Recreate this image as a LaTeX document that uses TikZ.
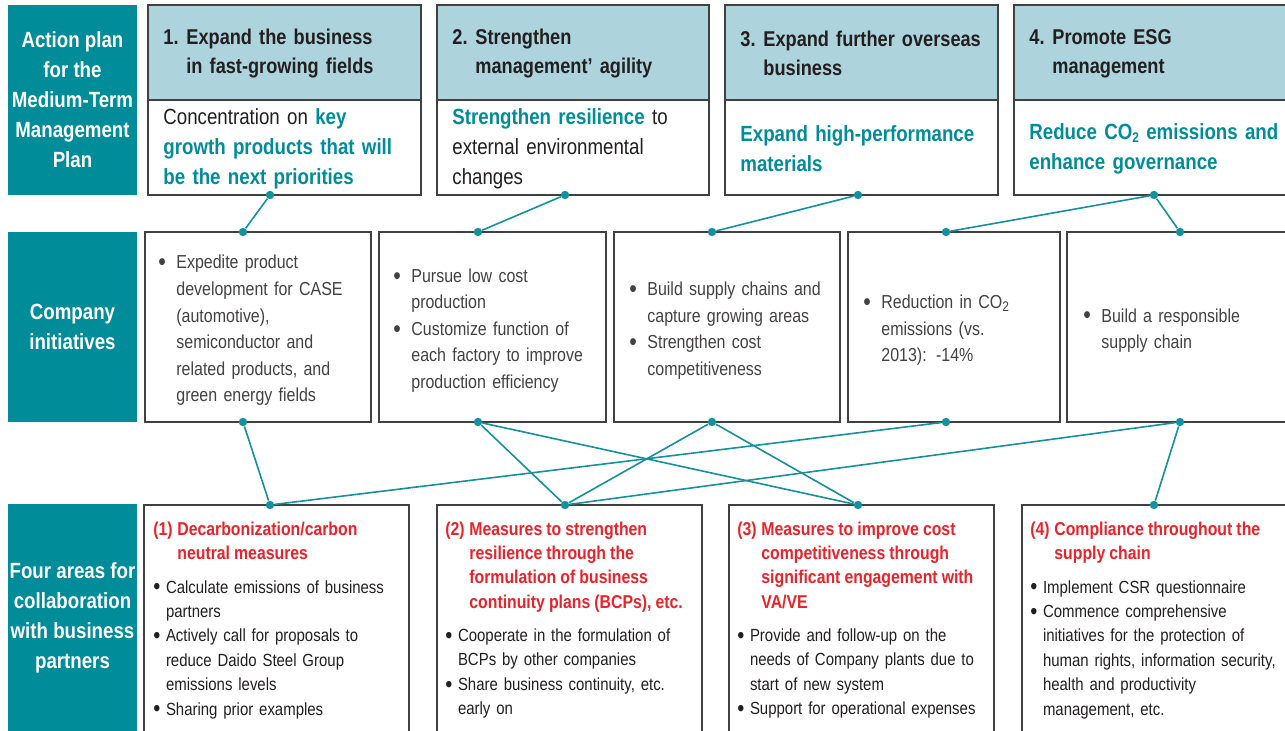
\documentclass[tikz,border=0pt]{standalone}
\usepackage{fontspec}
\setmainfont{Liberation Sans}[FakeStretch=0.85]
\usepackage{xcolor}
\usetikzlibrary{positioning}

\definecolor{tealbox}{HTML}{008C99}
\definecolor{hdrblue}{HTML}{ADD3DC}
\definecolor{linkteal}{HTML}{14919C}
\definecolor{redtxt}{HTML}{E8232A}
\definecolor{bodytxt}{HTML}{231F20}
\definecolor{frame}{HTML}{404040}

\newcommand{\keytxt}[1]{\textcolor{tealbox}{\bfseries #1}}
\newcommand{\cotwo}{CO\raisebox{-0.25ex}{\fontsize{7}{7}\selectfont 2}}
\newcommand{\bigbul}{\raisebox{-0.1em}{\scalebox{1.35}{\textbullet}}}
\newcommand{\tightsp}{\spaceskip=0.22em plus 0.1em minus 0.02em\relax}
\newcommand{\hangline}[3]{\par\hangindent=#1\hangafter=1\noindent\makebox[#1][l]{#2}#3\par}
\newcommand{\ini}[1]{\hangline{9pt}{\bigbul}{#1}}
\newcommand{\area}[1]{\hangline{6.3pt}{\bigbul}{#1}}
\newcommand{\areattl}[2]{{\color{redtxt}\bfseries\fontsize{9.3}{12.1}\selectfont\tightsp\hangline{12pt}{#1}{#2}}\vspace{4.5pt}}

\begin{document}
\begin{tikzpicture}[x=0.5pt, y=-0.5pt,
  rowlbl/.style = {font=\bfseries\fontsize{11}{15}\selectfont, text=white, align=center, inner sep=0pt},
  hdrtxt/.style = {font=\bfseries\fontsize{10.7}{14.5}\selectfont\tightsp, text=bodytxt, anchor=west, align=left, text width=130pt, inner sep=0pt},
  goaltxt/.style = {font=\fontsize{11}{15}\selectfont\tightsp, text=bodytxt, anchor=west, align=left, text width=128pt, inner sep=0pt},
  initxt/.style = {font=\fontsize{9.4}{13.3}\selectfont, text=bodytxt!85, anchor=west, align=left, text width=96pt, inner sep=0pt},
  areatxt/.style = {font=\fontsize{8.8}{12.2}\selectfont\tightsp, text=bodytxt, anchor=north west, align=left, text width=126pt, inner sep=0pt},
  dot/.style = {circle, fill=linkteal, inner sep=0pt, minimum size=4.2pt},
  link/.style = {draw=linkteal, line width=0.8pt},
  frm/.style = {draw=frame, line width=0.6pt}
]
  \path[use as bounding box, fill=white] (0,0) rectangle (1285,731);

  % row labels
  \fill[tealbox] (8,5) rectangle (137,195);
  \node[rowlbl] (plan) at (72.5,100) {Action plan\\for the\\Medium-Term\\Management\\Plan};
  \fill[tealbox] (8,232) rectangle (137,422);
  \node[rowlbl] (company) at (72.5,327) {Company\\initiatives};
  \fill[tealbox] (8,504) rectangle (137,740);
  \node[rowlbl] (areas) at (72.5,618) {Four areas for\\collaboration\\with business\\partners};

  % action plan columns
  \foreach \n/\xa/\xb/\dx/\hd/\bd in {
    1/148/421/270/{\hangline{11.5pt}{1.}{Expand the business\newline in fast-growing fields}}/{Concentration on \keytxt{key}\\\keytxt{growth products that will}\\\keytxt{be the next priorities}},
    2/437/709/565/{\hangline{11.5pt}{2.}{Strengthen\newline management’ agility}}/{\keytxt{Strengthen resilience} to\\external environmental\\changes},
    3/725/998/858/{\hangline{11.5pt}{3.}{Expand further overseas\newline business}}/{\keytxt{Expand high-performance}\\\keytxt{materials}},
    4/1014/1290/1154/{\hangline{11.5pt}{4.}{Promote ESG\newline management}}/{\keytxt{Reduce \cotwo{} emissions and}\\\keytxt{enhance governance}}
  }{
    \draw[frm, fill=hdrblue] (\xa,5) rectangle (\xb,100);
    \draw[frm, fill=white] (\xa,100) rectangle (\xb,195);
    \node[hdrtxt] (hdr\n) at (\xa+15,47) {\hd};
    \node[goaltxt] (goal\n) at (\xa+15,149) {\bd};
    \node[dot] (p\n) at (\dx,195) {};
  }

  % company initiatives
  \foreach \n/\xa/\xb/\dx in {1/145/371/243, 2/379/606/478, 3/614/840/712, 4/848/1060/946, 5/1067/1290/1180}{
    \draw[frm] (\xa,232) rectangle (\xb,422);
    \node[dot] (it\n) at (\dx,232) {};
    \node[dot] (ib\n) at (\dx,422) {};
  }
  \node[initxt] (ini1) at (158,324) {\ini{Expedite product\newline development for CASE\newline (automotive),\newline semiconductor and\newline related products, and\newline green energy fields}};
  \node[initxt] (ini2) at (393,324) {\ini{Pursue low cost\newline production}\ini{Customize function of\newline each factory to improve\newline production efficiency}};
  \node[initxt] (ini3) at (629,324) {\ini{Build supply chains and\newline capture growing areas}\ini{Strengthen cost\newline competitiveness}};
  \node[initxt] (ini4) at (863,324) {\ini{Reduction in \cotwo\newline emissions (vs.\newline 2013): -14\%}};
  \node[initxt] (ini5) at (1083,324) {\ini{Build a responsible\newline supply chain}};

  % four areas
  \foreach \n/\xa/\xb/\dx in {1/144/409/270, 2/437/702/565, 3/729/994/858, 4/1022/1290/1154}{
    \draw[frm] (\xa,505) rectangle (\xb,745);
    \node[dot] (c\n) at (\dx,505) {};
  }
  \node[areatxt] (area1) at (153,511) {\areattl{(1)}{Decarbonization/carbon\newline neutral measures}\area{Calculate emissions of business\newline partners}\area{Actively call for proposals to\newline reduce Daido Steel Group\newline emissions levels}\area{Sharing prior examples}};
  \node[areatxt] (area2) at (445,511) {\areattl{(2)}{Measures to strengthen\newline resilience through the\newline formulation of business\newline continuity plans (BCPs), etc.}\area{Cooperate in the formulation of\newline BCPs by other companies}\area{Share business continuity, etc.\newline early on}};
  \node[areatxt] (area3) at (737,511) {\areattl{(3)}{Measures to improve cost\newline competitiveness through\newline significant engagement with\newline VA/VE}\area{Provide and follow-up on the\newline needs of Company plants due to\newline start of new system}\area{Support for operational expenses}};
  \node[areatxt] (area4) at (1030,511) {\areattl{(4)}{Compliance throughout the\newline supply chain}\area{Implement CSR questionnaire}\area{Commence comprehensive\newline initiatives for the protection of\newline human rights, information security,\newline health and productivity\newline management, etc.}};

  % connectors
  \draw[link] (p1) -- (it1);
  \draw[link] (p2) -- (it2);
  \draw[link] (p3) -- (it3);
  \draw[link] (p4) -- (it4);
  \draw[link] (p4) -- (it5);
  \draw[link] (ib1) -- (c1);
  \draw[link] (ib2) -- (c2);
  \draw[link] (ib2) -- (c3);
  \draw[link] (ib3) -- (c2);
  \draw[link] (ib3) -- (c3);
  \draw[link] (ib4) -- (c1);
  \draw[link] (ib5) -- (c2);
  \draw[link] (ib5) -- (c4);
\end{tikzpicture}
\end{document}
